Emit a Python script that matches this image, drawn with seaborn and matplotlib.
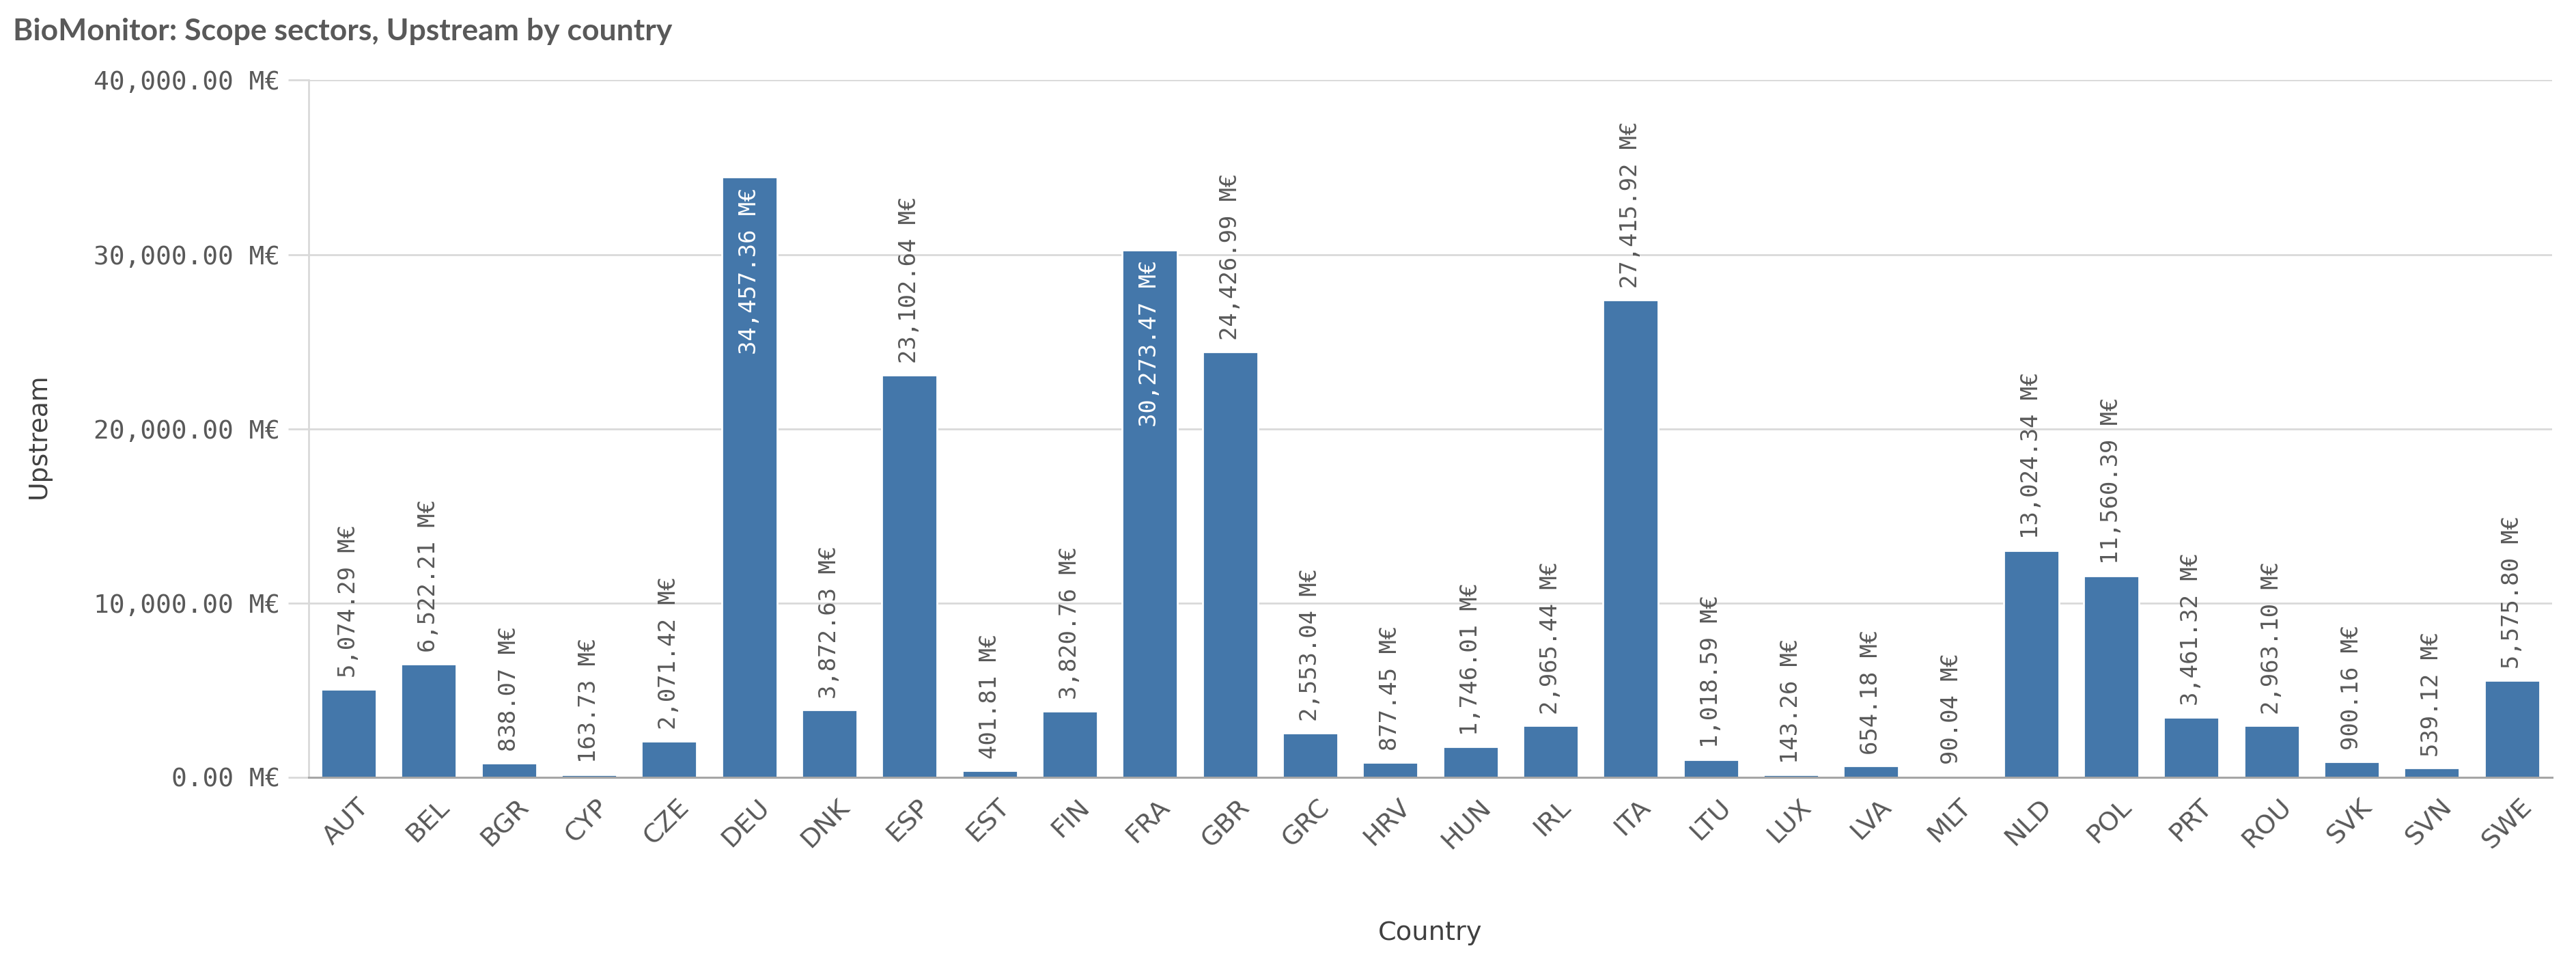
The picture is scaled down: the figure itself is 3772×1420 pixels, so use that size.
import matplotlib
matplotlib.use("Agg")
import matplotlib.pyplot as plt
import matplotlib.transforms as mtransforms
import seaborn as sns

# data
countries = ["AUT", "BEL", "BGR", "CYP", "CZE", "DEU", "DNK", "ESP", "EST", "FIN",
             "FRA", "GBR", "GRC", "HRV", "HUN", "IRL", "ITA", "LTU", "LUX", "LVA",
             "MLT", "NLD", "POL", "PRT", "ROU", "SVK", "SVN", "SWE"]
upstream = [5074.29, 6522.21, 838.07, 163.73, 2071.42, 34457.36, 3872.63, 23102.64,
            401.81, 3820.76, 30273.47, 24426.99, 2553.04, 877.45, 1746.01, 2965.44,
            27415.92, 1018.59, 143.26, 654.18, 90.04, 13024.34, 11560.39, 3461.32,
            2963.10, 900.16, 539.12, 5575.80]
y_ticks = [0, 10000, 20000, 30000, 40000]

bar_color = "#4477aa"
grid_color = "#d9d9d9"
text_gray = "#595959"

sns.set_theme(style="white")
plt.rcParams["font.family"] = ["DejaVu Sans"]

fig = plt.figure(figsize=(18.86, 7.10), dpi=200)
ax = fig.add_axes([0.1198, 0.1986, 0.9907 - 0.1198, 0.9173 - 0.1986])

sns.barplot(x=countries, y=upstream, color=bar_color, saturation=1, width=0.69, ax=ax)

ax.set_xlim(-0.5, len(countries) - 0.5)
ax.set_ylim(0, 40000)
ax.set_yticks(y_ticks)
ax.set_yticklabels([f"{t:,.2f} M€" for t in y_ticks], family="DejaVu Sans Mono",
                   fontsize=13.6, color=text_gray)
ax.yaxis.grid(True, color=grid_color, linewidth=1.0)
ax.set_axisbelow(True)
ax.tick_params(axis="y", length=10.8, width=1.0, color=grid_color, pad=4.3, left=True)
ax.tick_params(axis="x", length=0, pad=9)

for side in ["top", "right"]:
    ax.spines[side].set_visible(False)
ax.spines["left"].set_color(grid_color)
ax.spines["left"].set_linewidth(1.0)
ax.spines["bottom"].set_color("#a6a6a6")
ax.spines["bottom"].set_linewidth(1.1)

# rotated country labels
offset = mtransforms.ScaledTranslation(4 / 72, 0, fig.dpi_scale_trans)
for lab in ax.get_xticklabels():
    lab.set_rotation(45)
    lab.set_ha("right")
    lab.set_va("top")
    lab.set_rotation_mode("anchor")
    lab.set_fontsize(13.8)
    lab.set_color(text_gray)
    lab.set_transform(lab.get_transform() + offset)

ax.set_xlabel("Country", fontsize=13.8, color="#404040")
ax.set_ylabel("Upstream", fontsize=13.6, color="#404040")
ax.xaxis.set_label_coords(0.5, -0.2234)
ax.xaxis.label.set_va("center")
ax.yaxis.set_label_coords(-0.1202, 0.49)
ax.yaxis.label.set_va("center")

# value labels, moved inside the bar when they would leave the plot
labels = []
for i, v in enumerate(upstream):
    t = ax.annotate(f"{v:,.2f} M€", xy=(i, v), xytext=(0, 6), textcoords="offset points",
                    rotation=90, ha="center", va="bottom", fontsize=12.2,
                    family="DejaVu Sans Mono", color=text_gray)
    labels.append(t)

fig.canvas.draw()
renderer = fig.canvas.get_renderer()
ax_top = ax.get_window_extent(renderer).y1
for t in labels:
    if t.get_window_extent(renderer).y1 > ax_top:
        t.xyann = (0, -5.5)
        t.set_va("top")
        t.set_color("white")

fig.text(19 / 3772, 1 - 26 / 1420, "BioMonitor: Scope sectors, Upstream by country",
         ha="left", va="top", fontsize=16, fontweight="bold", color=text_gray,
         family=["Lato", "DejaVu Sans"])

fig.savefig("out.png", dpi=200)
plt.close(fig)
